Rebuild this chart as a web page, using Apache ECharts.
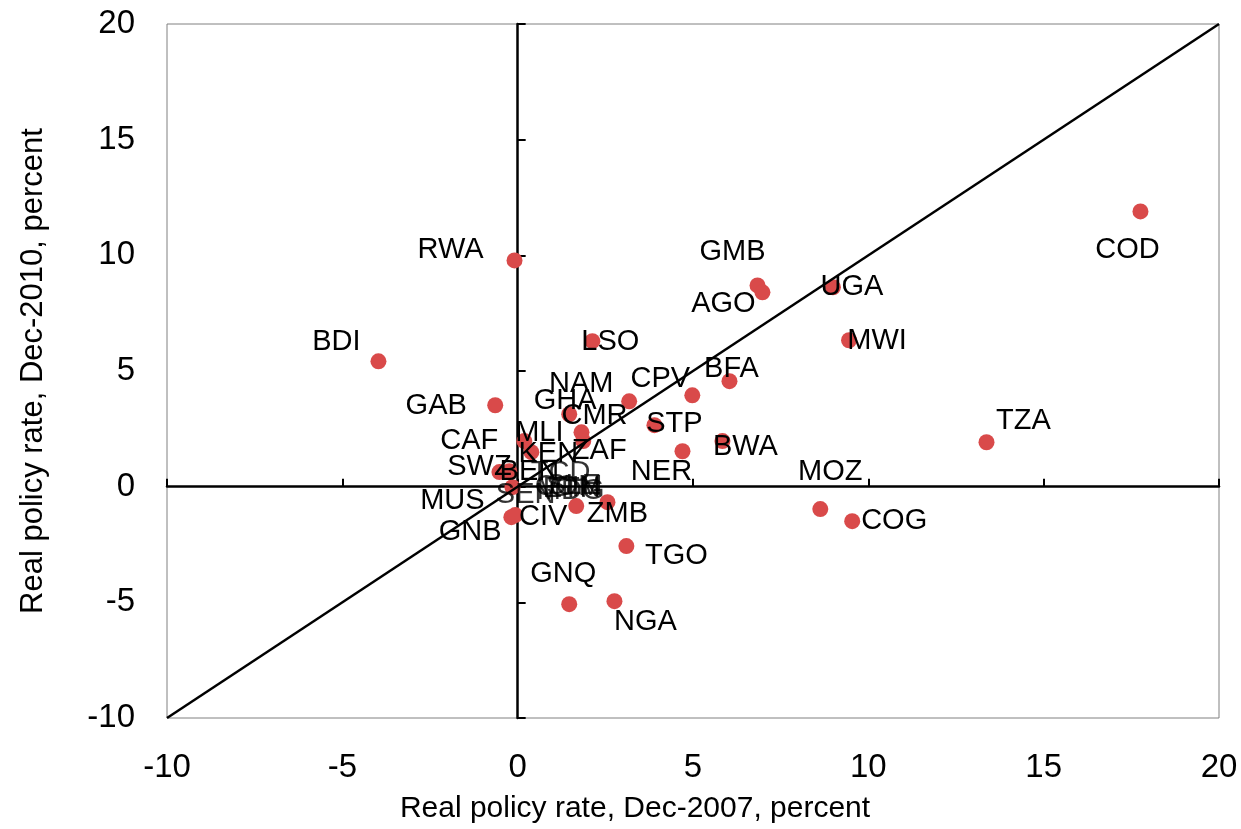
<!DOCTYPE html>
<html>
<head>
<meta charset="utf-8">
<script src="https://cdn.jsdelivr.net/npm/echarts@6/dist/echarts.min.js"></script>
<style>html,body{margin:0;padding:0;background:#fff}#c{width:1241px;height:829px}</style>
</head>
<body>
<div id="c"></div>
<script>
// ---- data ----
var countries = ['COD','RWA','GMB','AGO','UGA','MWI','BDI','LSO','NAM','CPV','BFA','GAB','GHA','CMR','ZAF','STP','NER','BWA','MOZ','COG','TZA','TGO','GNQ','NGA','ZMB','CIV','MUS','GNB','MLI','KEN','CAF','SWZ','BEN'];
var rateDec2007 = [17.76,-0.09,6.84,6.98,8.99,9.45,-3.97,2.13,3.18,4.98,6.04,-0.64,1.47,1.82,1.87,3.90,4.70,5.84,8.63,9.54,13.37,3.10,1.47,2.76,2.56,1.67,-0.18,-0.07,0.19,0.39,-0.24,-0.52,-0.15];
var rateDec2010 = [11.90,9.78,8.70,8.40,8.62,6.33,5.42,6.29,3.69,3.95,4.56,3.52,3.13,2.35,1.97,2.66,1.53,1.97,-0.97,-1.49,1.92,-2.57,-5.08,-4.95,-0.67,-0.84,-1.32,-1.23,1.97,1.49,0.67,0.63,-0.02];
// labelled countries without a visible marker (values shown at origin)
var hiddenCountries = ['SEN','TCD','COM','ETH','GIN','MDG','SLE'];
var hiddenX = [0,0,0,0,0,0,0];
var hiddenY = [0,0,0,0,0,0,0];
var diagonal = [-10, 20];
var xTicks = {min:-10, max:20, interval:5};
var yTicks = {min:-10, max:20, interval:5};

// ---- label placement (style) ----
var labelOffset = {
  COD:[-13,39], RWA:[-64,-10], GMB:[-25,-33], AGO:[-39,12], UGA:[19,0], MWI:[28,1],
  BDI:[-42,-19], LSO:[18,1], NAM:[-48,-17], CPV:[-32,-16], BFA:[2,-12], GAB:[-59,1],
  GHA:[-4,-13], CMR:[13,-16], ZAF:[16,10], STP:[20,-1], NER:[-21,21], BWA:[23,6],
  MOZ:[10,-37], COG:[42,0], TZA:[37,-21], TGO:[50,10], GNQ:[-6,-30], NGA:[31,21],
  ZMB:[10,12], CIV:[-33,11], MUS:[-59,-16], GNB:[-45,17], MLI:[15,-8], KEN:[17,2],
  CAF:[-40,-30], SWZ:[-20,-5], BEN:[17,-15],
  SEN:[8,8], TCD:[43,-14], COM:[51,0], ETH:[54,2], GIN:[57,1], MDG:[53,4], SLE:[56,-1]
};

var FONT = '"Liberation Sans Narrow","Arial Narrow","Liberation Sans",Arial,sans-serif';

function mk(names, xs, ys, size) {
  return names.map(function (n, i) {
    var o = labelOffset[n] || [0, 0];
    return {name: n, value: [xs[i], ys[i]], symbolSize: size,
      label: {show: true, position: 'inside', offset: o, formatter: n}};
  });
}

var chart = echarts.init(document.getElementById('c'), null, {renderer: 'canvas'});
var axisCommon = function (t) { return {type: 'value', min: t.min, max: t.max, interval: t.interval}; };

chart.setOption({
  animation: false,
  backgroundColor: '#fff',
  textStyle: {fontFamily: FONT},
  grid: {left: 167, right: 22, top: 24, bottom: 111, show: true, borderColor: '#808080', borderWidth: 1},
  xAxis: [
    Object.assign(axisCommon(xTicks), {
      position: 'bottom',
      axisLine: {show: false, onZero: false},
      axisTick: {show: false}, splitLine: {show: false},
      axisLabel: {color: '#000', fontSize: 33, fontFamily: FONT, margin: 33},
      name: 'Real policy rate, Dec-2007, percent', nameLocation: 'middle', nameGap: 76,
      nameTextStyle: {color: '#000', fontSize: 30, fontFamily: FONT, padding: [0, 116, 0, 0]}
    }),
    Object.assign(axisCommon(xTicks), {
      position: 'bottom',
      axisLine: {show: true, onZero: true, onZeroAxisIndex: 0, lineStyle: {color: '#000', width: 2.5}},
      axisTick: {show: true, inside: true, length: 8, lineStyle: {color: '#000', width: 2}},
      axisLabel: {show: false}, splitLine: {show: false}
    })
  ],
  yAxis: [
    Object.assign(axisCommon(yTicks), {
      position: 'left',
      axisLine: {show: false, onZero: false},
      axisTick: {show: false}, splitLine: {show: false},
      axisLabel: {color: '#000', fontSize: 33, fontFamily: FONT, margin: 32},
      name: 'Real policy rate, Dec-2010, percent', nameLocation: 'middle', nameGap: 118,
      nameTextStyle: {color: '#000', fontSize: 31, fontFamily: FONT}
    }),
    Object.assign(axisCommon(yTicks), {
      position: 'left',
      axisLine: {show: true, onZero: true, onZeroAxisIndex: 0, lineStyle: {color: '#000', width: 2.5}},
      axisTick: {show: true, inside: true, length: 8, lineStyle: {color: '#000', width: 2}},
      axisLabel: {show: false}, splitLine: {show: false}
    })
  ],
  series: [
    {
      type: 'line', xAxisIndex: 0, yAxisIndex: 0, z: 3,
      data: [[diagonal[0], diagonal[0]], [diagonal[1], diagonal[1]]],
      symbol: 'none', lineStyle: {color: '#000', width: 2.5}, silent: true
    },
    {
      type: 'scatter', xAxisIndex: 0, yAxisIndex: 0, z: 2,
      data: mk(countries, rateDec2007, rateDec2010, 16),
      itemStyle: {color: '#d94a4a', opacity: 1},
      label: {color: '#000', fontSize: 29, fontFamily: FONT}
    },
    {
      type: 'scatter', xAxisIndex: 0, yAxisIndex: 0, z: 4,
      data: mk(hiddenCountries, hiddenX, hiddenY, 0),
      itemStyle: {color: 'rgba(0,0,0,0)'},
      label: {color: '#000', fontSize: 29, fontFamily: FONT}
    }
  ]
});
</script>
</body>
</html>
